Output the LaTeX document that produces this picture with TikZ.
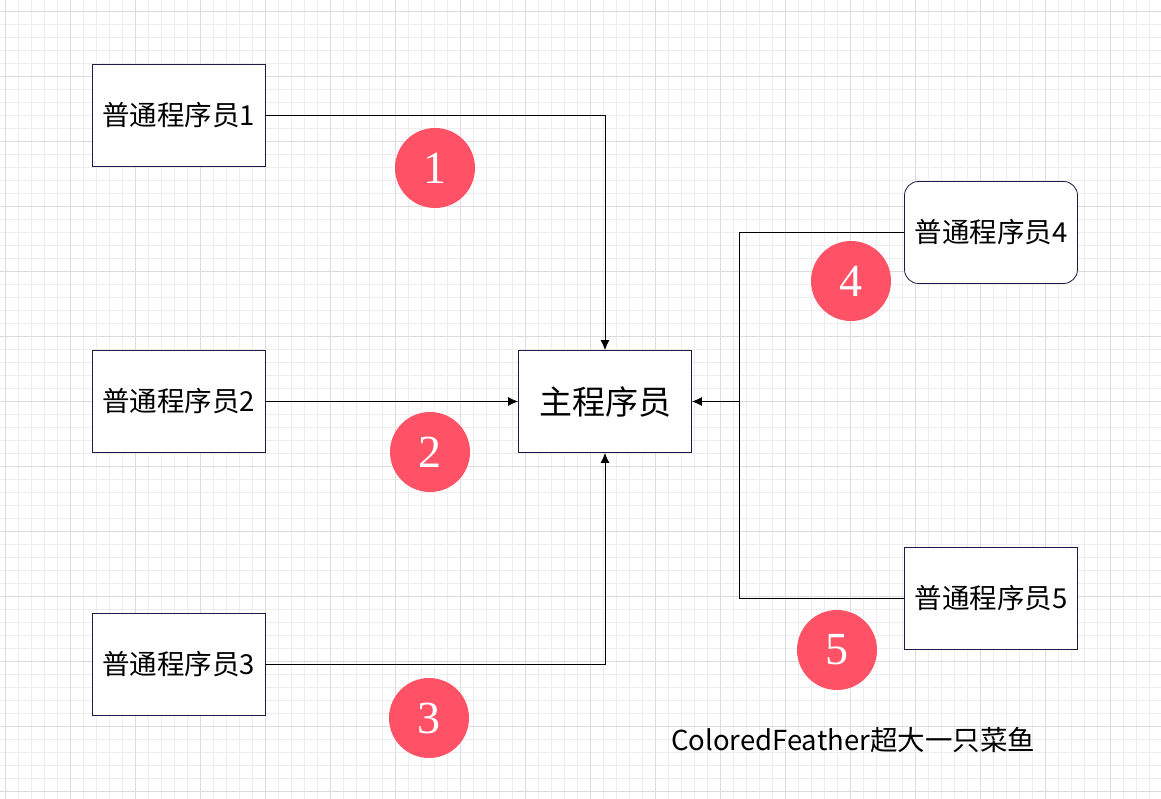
\documentclass[tikz,border=0pt]{standalone}
\usepackage{fontspec}
\setmainfont{Liberation Serif}
\newfontfamily\cjk{Noto Sans CJK SC}
\definecolor{minorgrid}{HTML}{EDEDED}
\definecolor{majorgrid}{HTML}{DCDCDC}
\definecolor{boxedge}{HTML}{1B1B45}
\definecolor{badge}{HTML}{FF5266}
\tikzset{
  x=1pt,y=-1pt,
  worker/.style={draw=boxedge,line width=0.8pt,fill=white,minimum width=173pt,minimum height=102pt,inner sep=0pt,font=\cjk\fontsize{27.5}{32}\selectfont},
  chief/.style={worker,font=\cjk\fontsize{33}{38}\selectfont},
  badgecirc/.style={circle,fill=badge,minimum size=80pt,inner sep=0pt,text=white,font=\fontsize{46}{50}\selectfont},
  conn/.style={draw=black,line width=0.8pt},
  arr/.style={conn,-{Latex[length=10pt,width=9pt]}},
}
\usetikzlibrary{arrows.meta}
\begin{document}
\begin{tikzpicture}
\useasboundingbox (0,0) rectangle (1161,799);
\fill[white] (0,0) rectangle (1161,799);
% grid
\foreach \i in {0,...,89} {
  \pgfmathsetmacro\xx{5.7+13*\i}
  \draw[minorgrid,line width=0.8pt] (\xx,0) -- (\xx,799);
}
\foreach \i in {0,...,61} {
  \pgfmathsetmacro\yy{11+13*\i}
  \draw[minorgrid,line width=0.8pt] (0,\yy) -- (1161,\yy);
}
\foreach \i in {0,...,17} {
  \pgfmathsetmacro\xx{5.7+65*\i}
  \draw[majorgrid,line width=0.8pt] (\xx,0) -- (\xx,799);
}
\foreach \i in {0,...,12} {
  \pgfmathsetmacro\yy{11+65*\i}
  \draw[majorgrid,line width=0.8pt] (0,\yy) -- (1161,\yy);
}
% nodes
\node[worker] (w1) at (178.5,115) {普通程序员1};
\node[worker] (w2) at (178.5,401.5) {普通程序员2};
\node[worker] (w3) at (178.5,664) {普通程序员3};
\node[chief] (m) at (605,401.5) {主程序员};
\node[worker,rounded corners=14pt] (w4) at (991,232.5) {普通程序员4};
\node[worker] (w5) at (991,598.5) {普通程序员5};
\coordinate (j) at (739,401.5);
% connectors
\draw[arr] (w1.east) -| (m.north);
\draw[arr] (w2.east) -- (m.west);
\draw[arr] (w3.east) -| (m.south);
\draw[conn] (w4.west) -| (j);
\draw[conn] (w5.west) -| (j);
\draw[arr] (j) -- (m.east);
% badges
\node[badgecirc] (b1) at (435,168) {1};
\node[badgecirc] (b2) at (430,452) {2};
\node[badgecirc] (b3) at (429,718) {3};
\node[badgecirc] (b4) at (851,281) {4};
\node[badgecirc] (b5) at (837,650) {5};
% caption
\node[font=\cjk\fontsize{27.5}{32}\selectfont] (cap) at (853,740) {ColoredFeather超大一只菜鱼};
\end{tikzpicture}
\end{document}
